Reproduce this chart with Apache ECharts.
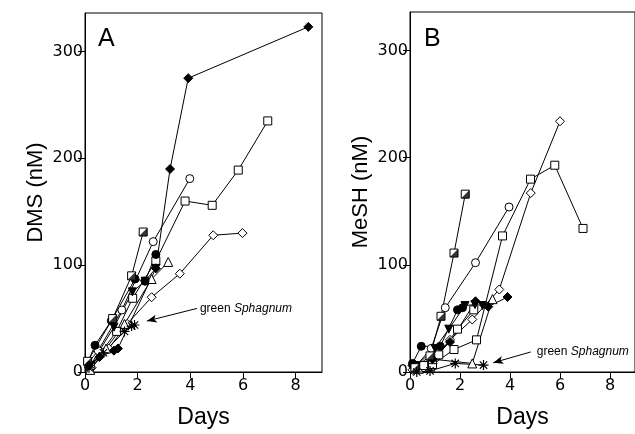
<!DOCTYPE html>
<html><head><meta charset="utf-8">
<script src="https://cdn.jsdelivr.net/npm/echarts@6/dist/echarts.min.js"></script>
<style>html,body{margin:0;padding:0;background:#fff}#c{width:635px;height:434px}</style>
</head><body><div id="c"></div>
<script>
// ---- data ----
const xTicks = [0, 2, 4, 6, 8];
const yTicks = [0, 100, 200, 300];
// Panel A: DMS (nM) vs Days
const A_fdia  = [[0.15,6],[0.55,14],[1.1,20],[1.25,22],[2.69,97],[3.23,190],[3.92,275],[8.48,323]];
const A_sq1   = [[0.2,6],[0.6,18],[1.2,38],[1.81,69],[2.69,104],[3.8,160],[4.83,156],[5.82,189],[6.94,235]];
const A_circ  = [[0.1,8],[0.5,20],[1.4,58],[2.59,122],[3.98,181]];
const A_dia   = [[0.25,4],[0.9,22],[1.6,45],[2.53,70],[3.6,92],[4.87,128],[5.98,130]];
const A_hsq   = [[0.1,10],[1.05,50],[1.77,90],[2.21,131]];
const A_tri   = [[0.2,2],[0.8,22],[1.5,45],[2.53,87],[3.16,103]];
const A_fcirc = [[0.1,9],[0.38,25],[1.0,48],[1.9,87],[2.28,85],[2.69,110]];
const A_ftri  = [[0.2,6],[1.1,42],[1.8,75],[2.28,85],[2.69,97]];
const A_ast   = [[0.15,4],[0.7,18],[1.5,38],[1.77,43],[1.88,44]];
// Panel B: MeSH (nM) vs Days
const B_hsq   = [[0.2,4],[0.8,15],[1.24,52],[1.76,111],[2.21,166]];
const B_circ  = [[0.25,6],[0.85,22],[1.41,60],[2.62,102],[3.96,154]];
const B_sq1   = [[0.3,4],[0.9,7],[1.76,21],[2.66,30],[3.7,127],[4.82,180],[5.79,193],[6.92,134]];
const B_dia   = [[0.1,2],[0.9,10],[1.6,30],[2.49,49],[3.57,77],[4.83,167],[6.0,234]];
const B_fdia  = [[0.1,6],[0.9,12],[1.6,28],[2.62,66],[3.13,61],[3.9,70]];
const B_fcirc = [[0.1,8],[0.45,24],[1.21,24],[1.9,58],[2.1,60]];
const B_ftri  = [[0.25,6],[1.0,22],[1.55,40],[2.2,62],[2.6,63],[2.9,62]];
const B_sq2   = [[0.2,3],[0.55,6],[1.15,16],[1.9,40],[2.55,58]];
const B_tri   = [[0.35,3],[0.9,12],[2.49,8],[3.3,68]];
const B_ast   = [[0.27,0],[0.8,1],[1.81,8],[2.94,6.5]];
// annotation arrows (data coords): [start, tip]
const arrowA = [[4.25,59.5],[2.35,47.7]];
const arrowB = [[4.83,18.7],[3.33,8.7]];

// ---- styling ----
const FONT = 'Liberation Sans, Arial, sans-serif';
const TICKFONT = 'DejaVu Sans, sans-serif';
const ASTER = 'path://M0,4.4L10,4.4L10,5.6L0,5.6Z M4.4,0L5.6,0L5.6,10L4.4,10Z M0.9,1.7L1.7,0.9L9.1,8.3L8.3,9.1Z M8.3,0.9L9.1,1.7L1.7,9.1L0.9,8.3Z';
const HALF = 'path://M10,0L10,10L0,10Z';
function ser(data, gi, symbol, filled, extra) {
  return Object.assign({
    type: 'line', xAxisIndex: gi, yAxisIndex: gi, data: data,
    symbol: symbol, symbolSize: 8, showAllSymbol: true,
    lineStyle: {color: '#000', width: 1},
    itemStyle: {color: filled ? '#000' : '#fff', borderColor: '#000', borderWidth: 1},
    emphasis: {disabled: true}, animation: false, z: 3
  }, extra || {});
}
function overlay(data, gi) {
  return {type: 'scatter', xAxisIndex: gi, yAxisIndex: gi, data: data, symbol: HALF, symbolSize: 8,
    itemStyle: {color: '#000'}, emphasis: {disabled: true}, animation: false, z: 4};
}
function arrow(pts) {
  return {silent: true, symbol: ['none', 'arrow'], symbolSize: [6, 10], animation: false,
    lineStyle: {color: '#000', width: 1, type: 'solid'}, label: {show: false},
    data: [[{coord: pts[0]}, {coord: pts[1]}]]};
}
function xAx(gi) {
  return {type: 'value', gridIndex: gi, min: 0, max: 9, name: 'Days', nameLocation: 'middle', nameGap: 34,
    nameTextStyle: {fontFamily: FONT, fontSize: 23, color: '#000'},
    axisLine: {show: true, lineStyle: {color: '#000', width: 1}},
    axisTick: {show: true, inside: false, length: 6, customValues: xTicks, lineStyle: {color: '#000'}},
    axisLabel: {customValues: xTicks, fontFamily: TICKFONT, fontSize: 16, color: '#000', margin: 6},
    splitLine: {show: false}};
}
function yAx(gi, name, gap) {
  return {type: 'value', gridIndex: gi, min: 0, max: 336, name: name, nameLocation: 'middle', nameGap: gap,
    nameTextStyle: {fontFamily: FONT, fontSize: 22, color: '#000'},
    axisLine: {show: true, lineStyle: {color: '#000', width: 1}},
    axisTick: {show: true, inside: false, length: 7, customValues: yTicks, lineStyle: {color: '#000'}},
    axisLabel: {customValues: yTicks, fontFamily: TICKFONT, fontSize: 16, color: '#000', margin: 2},
    splitLine: {show: false}};
}

const chart = echarts.init(document.getElementById('c'), null, {renderer: 'canvas'});
chart.setOption({
  backgroundColor: '#fff',
  animation: false,
  grid: [
    {left: 85, top: 13, width: 237, height: 361, show: true, borderColor: '#000', borderWidth: 1, backgroundColor: 'transparent'},
    {left: 410, top: 12, width: 235, height: 361, show: true, borderColor: '#000', borderWidth: 1, backgroundColor: 'transparent'}
  ],
  xAxis: [xAx(0), xAx(1)],
  yAxis: [yAx(0, 'DMS (nM)', 38), yAx(1, 'MeSH (nM)', 38)],
  series: [
    ser(A_dia, 0, 'diamond', false, {symbolSize: 9}),
    ser(A_sq1, 0, 'rect', false),
    ser(A_circ, 0, 'circle', false),
    ser(A_tri, 0, 'triangle', false, {symbolSize: 9}),
    ser(A_fcirc, 0, 'circle', true),
    ser(A_ftri, 0, 'triangle', true, {symbolRotate: 180}),
    ser(A_hsq, 0, 'rect', false),
    overlay(A_hsq, 0),
    ser(A_fdia, 0, 'diamond', true, {symbolSize: 9}),
    ser(A_ast, 0, ASTER, true, {symbolSize: 10, itemStyle: {color: '#000', borderWidth: 0}, markLine: arrow(arrowA)}),

    ser(B_dia, 1, 'diamond', false, {symbolSize: 9}),
    ser(B_sq1, 1, 'rect', false),
    ser(B_circ, 1, 'circle', false),
    ser(B_tri, 1, 'triangle', false, {symbolSize: 9}),
    ser(B_sq2, 1, 'rect', false),
    ser(B_fcirc, 1, 'circle', true),
    ser(B_ftri, 1, 'triangle', true, {symbolRotate: 180}),
    ser(B_fdia, 1, 'diamond', true, {symbolSize: 9}),
    ser(B_hsq, 1, 'rect', false),
    overlay(B_hsq, 1),
    ser(B_ast, 1, ASTER, true, {symbolSize: 10, itemStyle: {color: '#000', borderWidth: 0}, markLine: arrow(arrowB)})
  ]
});

const pA = chart.convertToPixel({gridIndex: 0}, arrowA[0]);
const pB = chart.convertToPixel({gridIndex: 1}, arrowB[0]);
const note = {
  rich: {
    n: {fontFamily: FONT, fontSize: 12, fill: '#000'},
    i: {fontFamily: FONT, fontSize: 12, fontStyle: 'italic', fill: '#000'}
  }
};
chart.setOption({
  graphic: [
    {type: 'text', left: 98, top: 27, style: {text: 'A', fontFamily: FONT, fontSize: 25, fill: '#000'}},
    {type: 'text', left: 424, top: 27, style: {text: 'B', fontFamily: FONT, fontSize: 25, fill: '#000'}},
    {type: 'text', x: pA[0] + 3, y: pA[1], style: Object.assign({text: '{n|green }{i|Sphagnum}', verticalAlign: 'middle', align: 'left'}, note)},
    {type: 'text', x: pB[0] + 6, y: pB[1], style: Object.assign({text: '{n|green }{i|Sphagnum}', verticalAlign: 'middle', align: 'left'}, note)}
  ]
});
</script></body></html>
